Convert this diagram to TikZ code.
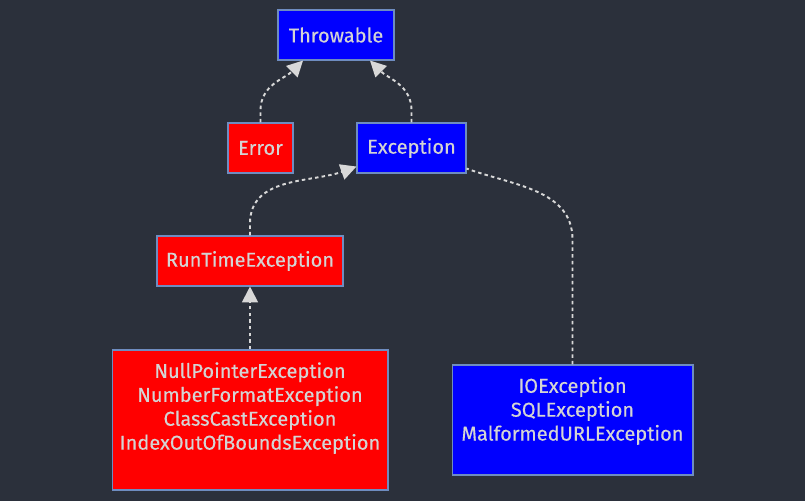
\documentclass[tikz,border=0pt]{standalone}
\usepackage{fontspec}
\setmainfont{Fira Sans}[FakeBold=0.3]
\usetikzlibrary{arrows.meta}
\definecolor{bgdark}{HTML}{2B303B}
\definecolor{edgeblue}{HTML}{6E8CC0}
\definecolor{txtgrey}{HTML}{D4D4D4}
\definecolor{linkgrey}{HTML}{D8D8D8}

\begin{document}
\begin{tikzpicture}[x=0.02cm, y=-0.02cm,
    cls/.style={draw=edgeblue, line width=0.6pt, inner sep=0pt, minimum height=1cm, align=center, text=txtgrey, font=\fontsize{11.4}{13.6}\selectfont},
    unchk/.style={cls, fill=red},
    chk/.style={cls, fill=blue},
    link/.style={draw=linkgrey, line width=1.1pt, dash pattern=on 2pt off 1.8pt},
    isa/.style={link, -{Triangle[length=9pt, width=9pt]}}
]
\fill[bgdark] (0,0) rectangle (805,501);
\useasboundingbox (0,0) rectangle (805,501);

\node[chk, minimum width=2.32cm] (thr) at (336,35) {Throwable};
\node[unchk, minimum width=1.3cm] (err) at (260.5,148) {Error};
\node[chk, minimum width=2.18cm] (exc) at (411.5,148) {Exception};
\node[unchk, minimum width=3.72cm] (rte) at (250,261) {RunTimeException};
\node[unchk, minimum width=5.52cm, minimum height=2.8cm, text depth=16pt] (rtesub) at (250,420)
    {NullPointerException\\NumberFormatException\\ClassCastException\\IndexOutOfBoundsException};
\node[chk, minimum width=4.82cm, minimum height=2.2cm, text depth=12.7pt] (excsub) at (572.5,420)
    {IOException\\SQLException\\MalformedURLException};

\draw[isa] (err.north) -- ++(0,-12) to[out=90, in=-135] ([xshift=-0.66cm]thr.south);
\draw[isa] (exc.north) -- ++(0,-12) to[out=90, in=-45] ([xshift=0.68cm]thr.south);
\draw[isa] (rte.north) -- ++(0,-12) to[out=90, in=200] ([yshift=0.14cm]exc.south west);
\draw[isa] (rtesub.north) -- (rte.south);
\draw[link] (excsub.north) -- ++(0,-125) to[out=90, in=-20] ([yshift=0.1cm]exc.south east);
\end{tikzpicture}
\end{document}
